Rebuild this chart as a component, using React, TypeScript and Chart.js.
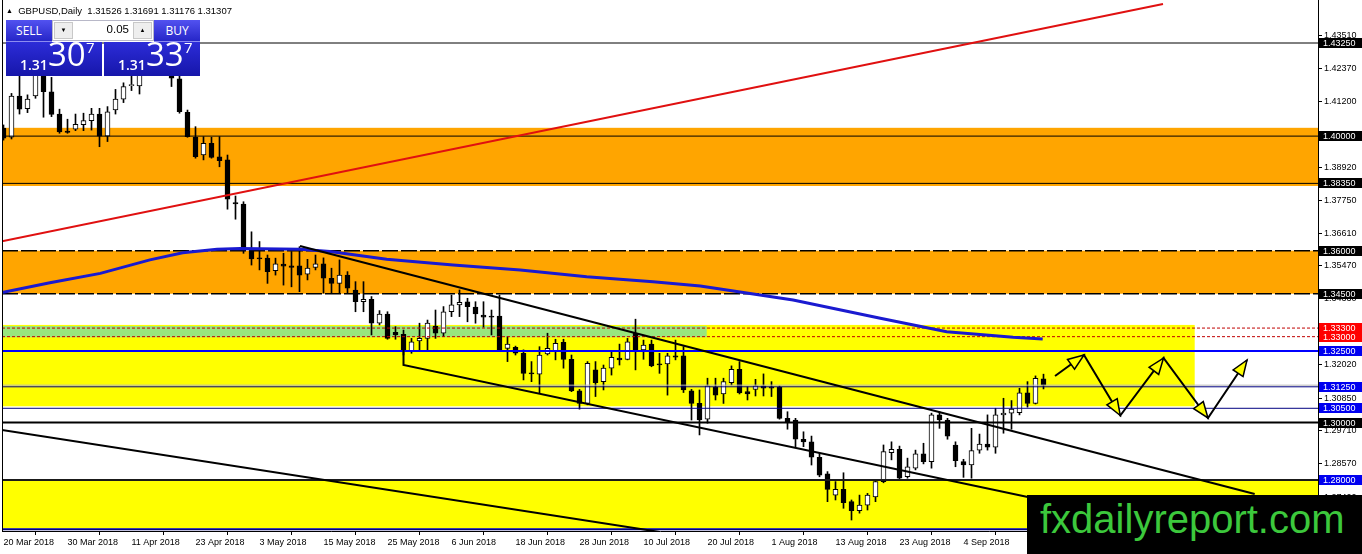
import React, { useEffect, useRef } from 'react';
import { Chart, registerables } from 'chart.js';

Chart.register(...registerables);

const FONT = '"Liberation Sans", Arial, sans-serif';

// ---- daily candles, GBPUSD, index 0 = 20 Mar 2018 ----
const opens = [
  1.4028, 1.3996, 1.4140, 1.4096, 1.4140, 1.4228, 1.4155, 1.4077, 1.4018, 1.4024,
  1.4040, 1.4054, 1.4077, 1.4000, 1.4091, 1.4129, 1.4176, 1.4175, 1.4250, 1.4260,
  1.4325, 1.4295, 1.4200, 1.4083, 1.3996, 1.3934, 1.3975, 1.3928, 1.3917, 1.3768,
  1.3763, 1.3603, 1.3575, 1.3574, 1.3530, 1.3553, 1.3547, 1.3547, 1.3518, 1.3542,
  1.3554, 1.3504, 1.3486, 1.3515, 1.3463, 1.3422, 1.3430, 1.3347, 1.3379, 1.3315,
  1.3308, 1.3248, 1.3285, 1.3294, 1.3337, 1.3312, 1.3387, 1.3411, 1.3422, 1.3403,
  1.3375, 1.3372, 1.3372, 1.3259, 1.3263, 1.3242, 1.3174, 1.3169, 1.3240, 1.3250,
  1.3280, 1.3221, 1.3111, 1.3067, 1.3184, 1.3143, 1.3190, 1.3225, 1.3221, 1.3312,
  1.3254, 1.3274, 1.3205, 1.3205, 1.3233, 1.3233, 1.3111, 1.3067, 1.3012, 1.3123,
  1.3100, 1.3139, 1.3186, 1.3108, 1.3116, 1.3128, 1.3125, 1.3123, 1.3015, 1.3009,
  1.2942, 1.2933, 1.2879, 1.2821, 1.2747, 1.2767, 1.2724, 1.2693, 1.2712, 1.2741,
  1.2794, 1.2895, 1.2907, 1.2811, 1.2841, 1.2891, 1.2864, 1.3027, 1.3009, 1.2922,
  1.2864, 1.2852, 1.2904, 1.2925, 1.2914, 1.3027, 1.3033, 1.3035, 1.3104, 1.3067,
  1.31526,
];
const highs = [
  1.4039, 1.4149, 1.4215, 1.4144, 1.4245, 1.4240, 1.4205, 1.4094, 1.4059, 1.4077,
  1.4080, 1.4097, 1.4097, 1.4103, 1.4163, 1.4186, 1.4210, 1.4270, 1.4300, 1.4345,
  1.4377, 1.4305, 1.4215, 1.4091, 1.4033, 1.3998, 1.3996, 1.3998, 1.3934, 1.3791,
  1.3771, 1.3666, 1.3632, 1.3585, 1.3574, 1.3591, 1.3597, 1.3614, 1.3570, 1.3585,
  1.3575, 1.3539, 1.3568, 1.3527, 1.3492, 1.3492, 1.3440, 1.3391, 1.3387, 1.3335,
  1.3323, 1.3294, 1.3347, 1.3358, 1.3393, 1.3405, 1.3445, 1.3463, 1.3434, 1.3422,
  1.3422, 1.3393, 1.3445, 1.3300, 1.3267, 1.3254, 1.3213, 1.3265, 1.3312, 1.3291,
  1.3291, 1.3236, 1.3116, 1.3213, 1.3213, 1.3201, 1.3248, 1.3274, 1.3294, 1.3361,
  1.3288, 1.3288, 1.3242, 1.3242, 1.3288, 1.3265, 1.3116, 1.3114, 1.3155, 1.3155,
  1.3155, 1.3198, 1.3213, 1.3125, 1.3151, 1.3170, 1.3143, 1.3128, 1.3038, 1.3015,
  1.2968, 1.2953, 1.2893, 1.2829, 1.2794, 1.2825, 1.2730, 1.2747, 1.2753, 1.2800,
  1.2922, 1.2933, 1.2918, 1.2876, 1.2904, 1.2928, 1.3033, 1.3038, 1.3015, 1.2933,
  1.2872, 1.2980, 1.2960, 1.3027, 1.3050, 1.3085, 1.3077, 1.3120, 1.3143, 1.3163,
  1.31691,
];
const lows = [
  1.3986, 1.3990, 1.4077, 1.4082, 1.4132, 1.4066, 1.4068, 1.4010, 1.4010, 1.4019,
  1.4019, 1.4021, 1.3963, 1.3981, 1.4077, 1.4117, 1.4159, 1.4147, 1.4225, 1.4245,
  1.4280, 1.4173, 1.4080, 1.3996, 1.3923, 1.3917, 1.3923, 1.3893, 1.3745, 1.3710,
  1.3591, 1.3550, 1.3533, 1.3486, 1.3515, 1.3480, 1.3474, 1.3457, 1.3498, 1.3533,
  1.3452, 1.3451, 1.3451, 1.3451, 1.3387, 1.3387, 1.3306, 1.3341, 1.3291, 1.3291,
  1.3236, 1.3242, 1.3254, 1.3254, 1.3294, 1.3300, 1.3370, 1.3370, 1.3352, 1.3347,
  1.3333, 1.3306, 1.3248, 1.3213, 1.3236, 1.3149, 1.3143, 1.3102, 1.3236, 1.3219,
  1.3190, 1.3108, 1.3047, 1.3062, 1.3091, 1.3114, 1.3166, 1.3201, 1.3219, 1.3184,
  1.3221, 1.3195, 1.3172, 1.3096, 1.3219, 1.3105, 1.3009, 1.2957, 1.2998, 1.3079,
  1.3067, 1.3131, 1.3100, 1.3079, 1.3093, 1.3093, 1.3091, 1.3012, 1.2977, 1.2916,
  1.2916, 1.2852, 1.2811, 1.2724, 1.2730, 1.2701, 1.2660, 1.2684, 1.2695, 1.2724,
  1.2790, 1.2870, 1.2800, 1.2806, 1.2835, 1.2856, 1.2841, 1.2980, 1.2942, 1.2846,
  1.2809, 1.2806, 1.2893, 1.2904, 1.2893, 1.2963, 1.2977, 1.3027, 1.3054, 1.3065,
  1.31176,
];
const closes = [
  1.3993, 1.4140, 1.4094, 1.4129, 1.4230, 1.4155, 1.4076, 1.4015, 1.4013, 1.4041,
  1.4054, 1.4077, 1.4000, 1.4085, 1.4129, 1.4173, 1.4177, 1.4250, 1.4260, 1.4325,
  1.4295, 1.4202, 1.4085, 1.3998, 1.3928, 1.3975, 1.3926, 1.3914, 1.3780, 1.3763,
  1.3605, 1.3571, 1.3571, 1.3527, 1.3554, 1.3546, 1.3542, 1.3515, 1.3539, 1.3554,
  1.3504, 1.3486, 1.3515, 1.3469, 1.3422, 1.3430, 1.3347, 1.3379, 1.3294, 1.3306,
  1.3254, 1.3282, 1.3294, 1.3347, 1.3312, 1.3387, 1.3411, 1.3420, 1.3405, 1.3379,
  1.3368, 1.3368, 1.3254, 1.3274, 1.3242, 1.3172, 1.3170, 1.3236, 1.3259, 1.3277,
  1.3221, 1.3111, 1.3067, 1.3207, 1.3139, 1.3190, 1.3228, 1.3219, 1.3282, 1.3254,
  1.3271, 1.3198, 1.3201, 1.3233, 1.3228, 1.3114, 1.3067, 1.3009, 1.3128, 1.3096,
  1.3143, 1.3186, 1.3104, 1.3100, 1.3128, 1.3120, 1.3120, 1.3015, 1.3003, 1.2942,
  1.2933, 1.2879, 1.2817, 1.2767, 1.2767, 1.2721, 1.2693, 1.2712, 1.2747, 1.2794,
  1.2899, 1.2907, 1.2806, 1.2846, 1.2891, 1.2864, 1.3027, 1.3009, 1.2953, 1.2867,
  1.2852, 1.2902, 1.2925, 1.2914, 1.3027, 1.3033, 1.3047, 1.3104, 1.3067, 1.3155,
  1.31307,
];
const askPrice = 1.31337;
const lotSize = '0.05';

// ---- x axis date labels (bar index -> label) ----
const dateTickIndex = [0, 8, 16, 24, 32, 40, 48, 56, 64, 72, 80, 88, 96, 104, 112, 120];
const dateTickLabels = [
  '20 Mar 2018', '30 Mar 2018', '11 Apr 2018', '23 Apr 2018', '3 May 2018', '15 May 2018',
  '25 May 2018', '6 Jun 2018', '18 Jun 2018', '28 Jun 2018', '10 Jul 2018', '20 Jul 2018',
  '1 Aug 2018', '13 Aug 2018', '23 Aug 2018', '4 Sep 2018',
];

// ---- y axis price ticks ----
const priceTicks = [
  1.27400, 1.28570, 1.29710, 1.30850, 1.32020, 1.33190, 1.34330, 1.35470,
  1.36610, 1.37750, 1.38920, 1.40060, 1.41200, 1.42370, 1.43510,
];

// ---- view window ----
const X_MIN = -0.1875;
const X_MAX = 164.3125;
const Y_MIN = 1.26217;
const Y_MAX = 1.44751;

// ---- rectangle zones ----
const zoneLow = [1.3826, 1.3450, 1.3057, 1.3298, 1.2632];
const zoneHigh = [1.4029, 1.3600, 1.3341, 1.3337, 1.2800];
const zoneStart = [X_MIN, X_MIN, X_MIN, X_MIN, X_MIN];
const zoneEnd = [X_MAX, X_MAX, 148.9, 87.9, X_MAX];
const zoneColors = ['#ffa500', '#ffa500', '#ffff00', '#98e67e', '#ffff00'];

// ---- horizontal level lines ----
const levelValues = [1.4325, 1.4000, 1.3835, 1.3600, 1.3450, 1.3330, 1.3300, 1.3250, 1.3125, 1.3050, 1.3000, 1.2800, 1.2628];
const levelColors = ['#000', '#000', '#000', '#000', '#000', '#c00000', '#c00000', '#0000ff', '#000080', '#000080', '#000', '#1a1a1a', '#000080'];
const levelWidths = [1, 1, 1, 1.5, 1.5, 1, 1, 2, 1, 1, 2, 2, 2];
const levelDashes = [[], [], [], [16, 3], [16, 3], [3, 2], [3, 2], [], [], [], [], [], []];

// ---- right-axis price label boxes ----
const tagValues = [1.4325, 1.4000, 1.3835, 1.3600, 1.3450, 1.3330, 1.3300, 1.3250, 1.3125, 1.3050, 1.3000, 1.2800];
const tagColors = ['#000', '#000', '#000', '#000', '#000', '#ff0000', '#ff0000', '#0000f0', '#0000f0', '#0000f0', '#000', '#0000f0'];

// ---- trend lines ----
const redTrendX = [X_MIN, 144.94];
const redTrendY = [1.36329, 1.4461];
const upperChannelX = [37.06, 156.4];
const upperChannelY = [1.36165, 1.27508];
const lowerChannelX = [50, 50, 140];
const lowerChannelY = [1.3254, 1.3201, 1.2670];
const longLineX = [X_MIN, 82.06];
const longLineY = [1.29742, 1.26182];

// ---- moving average (vertices) ----
const maX = [X_MIN, 5.8, 12.1, 18.3, 22.4, 26.7, 29.6, 37.1, 40.8, 47.9, 56.2, 64.6, 72.9, 81.2, 87.1, 98.7, 109.6, 117.9, 126.2, 129.9];
const maY = [1.3454, 1.3488, 1.3521, 1.3568, 1.3593, 1.3605, 1.3608, 1.3605, 1.3597, 1.3570, 1.3550, 1.3533, 1.3509, 1.3492, 1.3477, 1.3428, 1.3364, 1.3317, 1.3298, 1.3292];

// ---- projected zigzag arrows ----
const arrowX = [131.44, 135.06, 139.6, 145.0, 150.56, 155.44];
const arrowY = [1.31627, 1.3236, 1.30248, 1.32255, 1.30161, 1.32186];

const pts = (xs: number[], ys: number[]) => xs.map((x, i) => ({ x, y: ys[i] }));

const lineDs = (data: any[], color: string, width: number, order: number, dash: number[] = []) => ({
  type: 'line' as const,
  data,
  borderColor: color,
  borderWidth: width,
  borderDash: dash,
  pointRadius: 0,
  fill: false,
  tension: 0,
  order,
});

const zonesPlugin = {
  id: 'zones',
  beforeDatasetsDraw(chart: any) {
    const { ctx, chartArea, scales } = chart;
    const xs = scales.x;
    const ys = scales.y;
    ctx.save();
    ctx.beginPath();
    ctx.rect(chartArea.left, chartArea.top, chartArea.right - chartArea.left, chartArea.bottom - chartArea.top);
    ctx.clip();
    zoneLow.forEach((lo, i) => {
      const x0 = xs.getPixelForValue(zoneStart[i]);
      const x1 = xs.getPixelForValue(zoneEnd[i]);
      const y0 = ys.getPixelForValue(zoneHigh[i]);
      const y1 = ys.getPixelForValue(lo);
      ctx.fillStyle = zoneColors[i];
      ctx.fillRect(x0, y0, x1 - x0, y1 - y0);
    });
    ctx.restore();
  },
};

const arrowHeadsPlugin = {
  id: 'arrowHeads',
  afterDatasetsDraw(chart: any) {
    const { ctx, scales } = chart;
    const xs = scales.x;
    const ys = scales.y;
    ctx.save();
    for (let i = 1; i < arrowX.length; i++) {
      const x0 = xs.getPixelForValue(arrowX[i - 1]);
      const y0 = ys.getPixelForValue(arrowY[i - 1]);
      const x1 = xs.getPixelForValue(arrowX[i]);
      const y1 = ys.getPixelForValue(arrowY[i]);
      const a = Math.atan2(y1 - y0, x1 - x0);
      const L = 16;
      const W = 6;
      const bx = x1 - L * Math.cos(a);
      const by = y1 - L * Math.sin(a);
      ctx.beginPath();
      ctx.moveTo(x1, y1);
      ctx.lineTo(bx + W * Math.sin(a), by - W * Math.cos(a));
      ctx.lineTo(bx - W * Math.sin(a), by + W * Math.cos(a));
      ctx.closePath();
      ctx.fillStyle = '#ffff00';
      ctx.fill();
      ctx.strokeStyle = '#000';
      ctx.lineWidth = 1.5;
      ctx.stroke();
    }
    ctx.restore();
  },
};

const tagsPlugin = {
  id: 'tags',
  afterDraw(chart: any) {
    const { ctx, chartArea, scales } = chart;
    const ys = scales.y;
    ctx.save();
    ctx.fillStyle = '#000';
    ctx.fillRect(chartArea.left, chartArea.top, 1, chartArea.bottom - chartArea.top);
    ctx.font = `9px ${FONT}`;
    ctx.textBaseline = 'middle';
    ctx.textAlign = 'left';
    tagValues.forEach((v, i) => {
      const py = Math.round(ys.getPixelForValue(v));
      ctx.fillStyle = tagColors[i];
      ctx.fillRect(ys.left + 1, py - 5, ys.right - ys.left - 1, 10);
      ctx.fillStyle = '#fff';
      ctx.fillText(v.toFixed(5), ys.left + 5, py + 0.5);
    });
    ctx.restore();
  },
};

function PriceBox({ left, price, label }: { left: number; price: number; label: string }) {
  const s = price.toFixed(5);
  return (
    <div
      style={{
        position: 'absolute',
        left,
        top: 20,
        width: 96,
        height: 56,
        fontFamily: '"Open Sans", sans-serif',
        color: '#fff',
      }}
    >
      <div
        style={{
          position: 'absolute',
          left: label === 'SELL' ? 0 : 50,
          top: 0,
          width: 46,
          height: 21,
          background: 'linear-gradient(#5252f0, #2626c8)',
          borderBottom: '1px solid #8c8cf0',
          fontSize: 12,
          lineHeight: '21px',
          textAlign: 'center',
        }}
      >
        {label}
      </div>
      <div
        style={{
          position: 'absolute',
          left: 0,
          top: 22,
          width: 96,
          height: 34,
          background: 'linear-gradient(#2c2cd8, #1616aa)',
        }}
      >
        <span style={{ position: 'absolute', left: 14, top: 16, fontSize: 14, fontWeight: 600, lineHeight: 1 }}>
          {s.slice(0, 4)}
        </span>
        <span style={{ position: 'absolute', left: 42, top: -5, fontSize: 33, lineHeight: 1 }}>{s.slice(4, 6)}</span>
        <span style={{ position: 'absolute', left: 80, top: -2, fontSize: 15, lineHeight: 1 }}>{s.slice(6)}</span>
      </div>
    </div>
  );
}

export default function App() {
  const canvasRef = useRef<HTMLCanvasElement | null>(null);

  useEffect(() => {
    const canvas = canvasRef.current;
    if (!canvas) return;
    const idx = closes.map((_, i) => i);
    const bull = closes.map((c, i) => c >= opens[i]);

    const datasets: any[] = [];
    // wicks
    datasets.push({
      type: 'bar',
      data: idx.map((i) => ({ x: i, y: [lows[i], highs[i]] })),
      backgroundColor: '#000',
      barThickness: 1,
      grouped: false,
      order: 9,
    });
    // bodies
    datasets.push({
      type: 'bar',
      data: idx.map((i) => ({ x: i, y: [opens[i], closes[i]] })),
      backgroundColor: bull.map((b) => (b ? '#fff' : '#000')),
      borderColor: '#000',
      borderWidth: 1,
      borderSkipped: false,
      barThickness: 5,
      minBarLength: 1,
      grouped: false,
      order: 8,
    });
    // horizontal levels
    levelValues.forEach((v, i) => {
      datasets.push(
        lineDs([{ x: X_MIN, y: v }, { x: X_MAX, y: v }], levelColors[i], levelWidths[i], 7, levelDashes[i])
      );
    });
    // bid line
    datasets.push(lineDs([{ x: X_MIN, y: closes[closes.length - 1] }, { x: X_MAX, y: closes[closes.length - 1] }], '#b8b8b8', 1, 7));
    // moving average
    datasets.push(lineDs(pts(maX, maY), '#1a1ad0', 3, 5));
    // trend lines
    datasets.push(lineDs(pts(redTrendX, redTrendY), '#e01010', 2, 4));
    datasets.push(lineDs(pts(upperChannelX, upperChannelY), '#000', 2, 4));
    datasets.push(lineDs(pts(lowerChannelX, lowerChannelY), '#000', 2, 4));
    datasets.push(lineDs(pts(longLineX, longLineY), '#000', 2, 4));
    // zigzag arrows
    datasets.push(lineDs(pts(arrowX, arrowY), '#000', 2, 1));

    const chart = new Chart(canvas, {
      type: 'bar',
      data: { datasets },
      plugins: [zonesPlugin, arrowHeadsPlugin, tagsPlugin],
      options: {
        animation: false,
        responsive: false,
        devicePixelRatio: 1,
        events: [],
        layout: { padding: { left: 2, top: 0, right: 0, bottom: 0 } },
        plugins: { legend: { display: false }, tooltip: { enabled: false } },
        scales: {
          x: {
            type: 'linear',
            min: X_MIN,
            max: X_MAX,
            offset: false,
            afterBuildTicks: (s: any) => {
              s.ticks = dateTickIndex.map((v) => ({ value: v }));
            },
            afterFit: (s: any) => {
              s.height = 23;
              s.paddingLeft = 0;
              s.paddingRight = 0;
            },
            ticks: {
              autoSkip: false,
              maxRotation: 0,
              minRotation: 0,
              align: 'start',
              padding: 2,
              color: '#000',
              font: { family: FONT, size: 9 },
              callback: (value: any) => {
                const k = dateTickIndex.indexOf(Number(value));
                return k >= 0 ? dateTickLabels[k] : '';
              },
            },
            grid: { display: true, drawOnChartArea: false, drawTicks: true, tickLength: 4, color: '#000' },
            border: { display: true, color: '#000', width: 1 },
          },
          y: {
            type: 'linear',
            position: 'right',
            min: Y_MIN,
            max: Y_MAX,
            afterBuildTicks: (s: any) => {
              s.ticks = priceTicks.map((v) => ({ value: v }));
            },
            afterFit: (s: any) => {
              s.width = 44;
              s.paddingTop = 0;
              s.paddingBottom = 0;
            },
            ticks: {
              padding: 2,
              color: '#000',
              font: { family: FONT, size: 9 },
              callback: (value: any) => Number(value).toFixed(5),
            },
            grid: { display: true, drawOnChartArea: false, drawTicks: true, tickLength: 4, color: '#000' },
            border: { display: true, color: '#000', width: 1 },
          },
        },
      } as any,
    });
    return () => chart.destroy();
  }, []);

  const bid = closes[closes.length - 1];

  return (
    <div style={{ position: 'absolute', left: 0, top: 0, width: 1362, height: 554, background: '#fff', overflow: 'hidden' }}>
      <canvas ref={canvasRef} width={1362} height={554} style={{ position: 'absolute', left: 0, top: 0 }} />
      <div
        style={{
          position: 'absolute',
          left: 6,
          top: 6,
          fontFamily: FONT,
          fontSize: 9.5,
          lineHeight: 1,
          color: '#000',
          whiteSpace: 'pre',
        }}
      >
        <span style={{ fontSize: 7, position: 'relative', top: -1 }}>▲</span>
        {`  GBPUSD,Daily  ${opens[opens.length - 1].toFixed(5)} ${highs[highs.length - 1].toFixed(5)} ${lows[lows.length - 1].toFixed(5)} ${bid.toFixed(5)}`}
      </div>
      <PriceBox left={6} price={bid} label="SELL" />
      <PriceBox left={104} price={askPrice} label="BUY" />
      {/* lot size control */}
      <div
        style={{
          position: 'absolute',
          left: 52,
          top: 20,
          width: 102,
          height: 21,
          background: '#fff',
          boxSizing: 'border-box',
          border: '1px solid #b8b8c8',
          fontFamily: FONT,
        }}
      >
        <div
          style={{
            position: 'absolute',
            left: 1,
            top: 1,
            width: 19,
            height: 17,
            background: '#eeeeee',
            border: '1px solid #c8c8c8',
            boxSizing: 'border-box',
            fontSize: 6,
            textAlign: 'center',
            lineHeight: '15px',
          }}
        >
          ▼
        </div>
        <div style={{ position: 'absolute', right: 24, top: 3, fontSize: 11.5, lineHeight: 1 }}>{lotSize}</div>
        <div
          style={{
            position: 'absolute',
            right: 1,
            top: 1,
            width: 19,
            height: 17,
            background: '#eeeeee',
            border: '1px solid #c8c8c8',
            boxSizing: 'border-box',
            fontSize: 6,
            textAlign: 'center',
            lineHeight: '15px',
          }}
        >
          ▲
        </div>
      </div>
      {/* watermark */}
      <div
        style={{
          position: 'absolute',
          left: 1027,
          top: 495,
          width: 335,
          height: 59,
          background: '#000',
          overflow: 'hidden',
        }}
      >
        <span
          style={{
            position: 'absolute',
            left: 13,
            top: 4,
            fontFamily: FONT,
            fontSize: 40,
            lineHeight: 1,
            color: '#3cc83c',
            whiteSpace: 'nowrap',
          }}
        >
          fxdailyreport.com
        </span>
      </div>
    </div>
  );
}
